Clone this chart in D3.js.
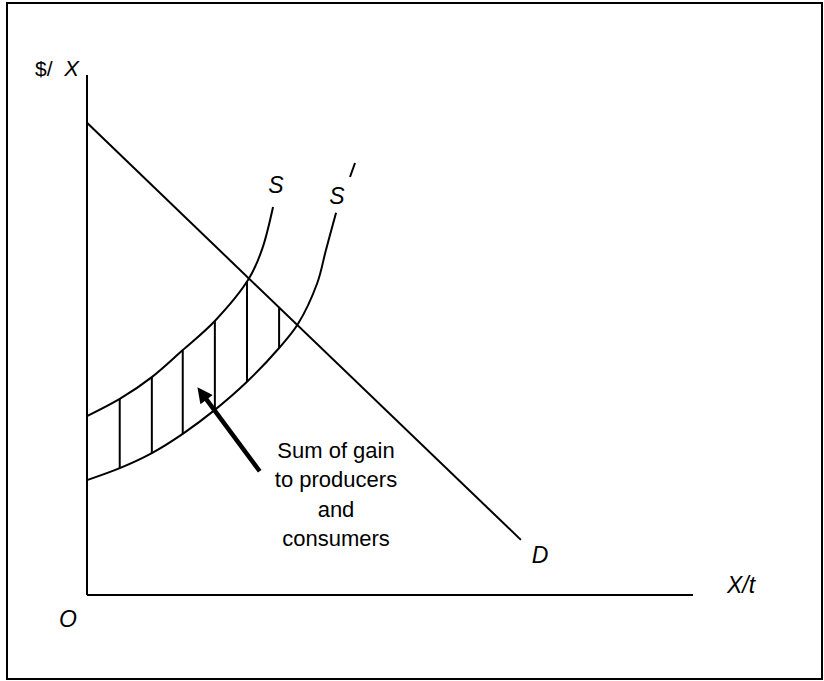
<!DOCTYPE html>
<html>
<head>
<meta charset="utf-8">
<script src="https://cdn.jsdelivr.net/npm/d3@7"></script>
<style>
  body { margin: 0; background: #fff; }
  text { font-family: "Liberation Sans", Arial, Helvetica, sans-serif; fill: #000; }
  .lbl { font-style: italic; font-size: 23px; }
  .note { font-size: 22px; }
</style>
</head>
<body>
<script>
// quantity (X/t) and price ($/X) readings, in chart units 0..100
const demandQ = [0, 71.6];
const demandP = [90.8, 10.6];

const supplyQ = [0, 5.4, 10.7, 15.8, 21.1, 26.7, 28.9, 30.7];
const supplyP = [34.4, 37.7, 41.9, 47.1, 52.7, 60.8, 66.5, 74.6];

const supply2Q = [0, 5.4, 10.7, 15.8, 21.1, 26.4, 31.7, 34.8, 38.0, 39.4, 41.1];
const supply2P = [22.1, 24.4, 27.3, 31.0, 35.6, 41.0, 47.5, 52.1, 60.0, 66.2, 73.5];

// vertical hatching between S and S' (top limited by D)
const hatchQ = [5.4, 10.7, 15.8, 21.1, 26.4, 31.7];
const hatchTop = [37.7, 41.9, 47.1, 52.7, 60.2, 55.4];
const hatchBottom = [24.4, 27.3, 31.0, 35.6, 41.0, 47.5];

const arrowFrom = [28.5, 23.8];
const arrowTo = [18.6, 39.4];

const noteLines = ["Sum of gain", "to producers", "and", "consumers"];

const W = 824, H = 681;
const x = d3.scaleLinear().domain([0, 100]).range([87, 693]);
const y = d3.scaleLinear().domain([0, 100]).range([595, 75]);

const svg = d3.select(document.body).append('svg')
  .attr('width', W)
  .attr('height', H);

// frame
svg.append('rect')
  .attr('x', 7).attr('y', 3)
  .attr('width', 815).attr('height', 676)
  .attr('fill', 'none').attr('stroke', '#000').attr('stroke-width', 2);

// axes
svg.append('line')
  .attr('x1', x(0)).attr('y1', y(100))
  .attr('x2', x(0)).attr('y2', y(0))
  .attr('stroke', '#000').attr('stroke-width', 2);
svg.append('line')
  .attr('x1', x(0)).attr('y1', y(0))
  .attr('x2', x(100)).attr('y2', y(0))
  .attr('stroke', '#000').attr('stroke-width', 2);

const line = d3.line()
  .x(d => x(d[0]))
  .y(d => y(d[1]))
  .curve(d3.curveCatmullRom.alpha(0.5));

const toPts = (qs, ps) => qs.map((q, i) => [q, ps[i]]);

svg.append('path')
  .attr('d', d3.line().x(d => x(d[0])).y(d => y(d[1]))(toPts(demandQ, demandP)))
  .attr('fill', 'none').attr('stroke', '#000').attr('stroke-width', 2);

svg.append('path')
  .attr('d', line(toPts(supplyQ, supplyP)))
  .attr('fill', 'none').attr('stroke', '#000').attr('stroke-width', 2);

svg.append('path')
  .attr('d', line(toPts(supply2Q, supply2P)))
  .attr('fill', 'none').attr('stroke', '#000').attr('stroke-width', 2);

svg.selectAll('.hatch')
  .data(hatchQ)
  .enter().append('line')
  .attr('class', 'hatch')
  .attr('x1', d => x(d)).attr('x2', d => x(d))
  .attr('y1', (d, i) => y(hatchTop[i]))
  .attr('y2', (d, i) => y(hatchBottom[i]))
  .attr('stroke', '#000').attr('stroke-width', 2);

// arrow
svg.append('defs').append('marker')
  .attr('id', 'head')
  .attr('viewBox', '0 0 10 10')
  .attr('refX', 2).attr('refY', 5)
  .attr('markerWidth', 4).attr('markerHeight', 3.4)
  .attr('orient', 'auto')
  .append('path')
  .attr('d', 'M0,0L10,5L0,10z')
  .attr('fill', '#000');

svg.append('line')
  .attr('x1', x(arrowFrom[0])).attr('y1', y(arrowFrom[1]))
  .attr('x2', x(arrowTo[0]) + 5).attr('y2', y(arrowTo[1]) + 7)
  .attr('stroke', '#000').attr('stroke-width', 4.5)
  .attr('marker-end', 'url(#head)');

// note text
svg.selectAll('.note')
  .data(noteLines)
  .enter().append('text')
  .attr('class', 'note')
  .attr('x', 336)
  .attr('y', (d, i) => 458 + i * 29.3)
  .attr('text-anchor', 'middle')
  .text(d => d);

// labels
svg.append('text').attr('x', 35).attr('y', 76)
  .style('font-size', '21px').text('$/');
svg.append('text').attr('class', 'lbl').attr('x', 79).attr('y', 76)
  .attr('text-anchor', 'end').style('font-size', '22px').text('X');

svg.append('text').attr('class', 'lbl').attr('x', 276).attr('y', 193)
  .attr('text-anchor', 'middle').text('S');
svg.append('text').attr('class', 'lbl').attr('x', 337).attr('y', 204)
  .attr('text-anchor', 'middle').text('S');
svg.append('line')
  .attr('x1', 355).attr('y1', 163).attr('x2', 350).attr('y2', 177)
  .attr('stroke', '#000').attr('stroke-width', 2);

svg.append('text').attr('class', 'lbl').attr('x', 540).attr('y', 563)
  .attr('text-anchor', 'middle').text('D');
svg.append('text').attr('class', 'lbl').attr('x', 727).attr('y', 593)
  .text('X/t');
svg.append('text').attr('class', 'lbl').attr('x', 68).attr('y', 627)
  .attr('text-anchor', 'middle').text('O');
</script>
</body>
</html>
